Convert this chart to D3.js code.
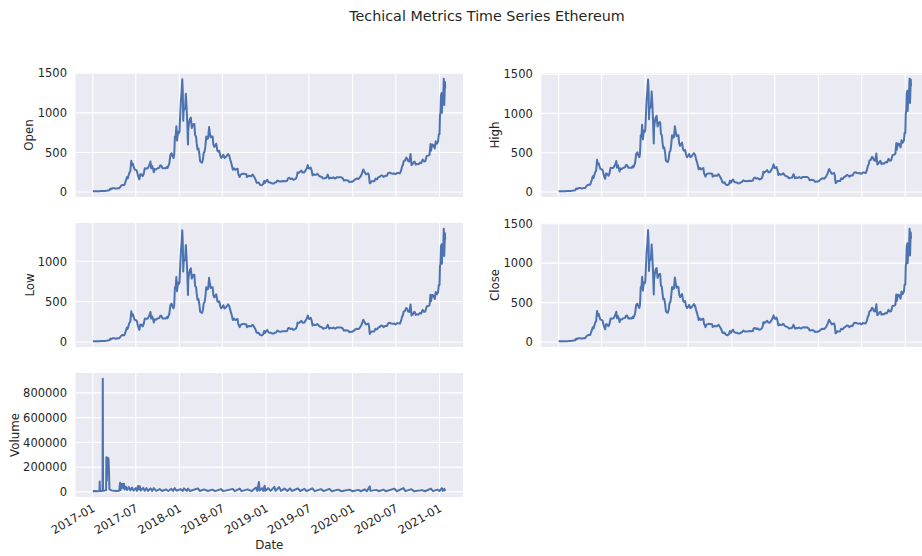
<!DOCTYPE html>
<html><head><meta charset="utf-8">
<script src="https://cdn.jsdelivr.net/npm/d3@7"></script>
<style>
body{margin:0;background:#fff;}
text{font-family:"DejaVu Sans",sans-serif;}
</style>
</head><body>
<svg id="c" width="922" height="556"></svg>
<script>
const chartTitle = "Techical Metrics Time Series Ethereum";
const priceDates = ["2017-01-01","2017-01-08","2017-01-15","2017-01-22","2017-01-29","2017-02-05","2017-02-12","2017-02-19","2017-02-26","2017-03-05","2017-03-12","2017-03-16","2017-03-19","2017-03-26","2017-04-02","2017-04-09","2017-04-16","2017-04-23","2017-04-30","2017-05-07","2017-05-14","2017-05-21","2017-05-25","2017-05-28","2017-06-04","2017-06-08","2017-06-12","2017-06-15","2017-06-19","2017-06-22","2017-06-26","2017-07-02","2017-07-06","2017-07-10","2017-07-16","2017-07-20","2017-07-24","2017-07-30","2017-08-03","2017-08-08","2017-08-13","2017-08-16","2017-08-20","2017-08-24","2017-08-28","2017-09-01","2017-09-04","2017-09-08","2017-09-12","2017-09-15","2017-09-18","2017-09-24","2017-10-01","2017-10-08","2017-10-12","2017-10-16","2017-10-22","2017-10-29","2017-11-05","2017-11-09","2017-11-12","2017-11-19","2017-11-24","2017-11-29","2017-12-02","2017-12-07","2017-12-10","2017-12-13","2017-12-16","2017-12-19","2017-12-22","2017-12-26","2017-12-29",
"2018-01-01","2018-01-04","2018-01-07","2018-01-10","2018-01-13","2018-01-15","2018-01-17","2018-01-19","2018-01-22","2018-01-25","2018-01-28","2018-01-31","2018-02-03","2018-02-06","2018-02-07","2018-02-10","2018-02-14","2018-02-18","2018-02-22","2018-02-25","2018-03-01","2018-03-05","2018-03-08","2018-03-12","2018-03-15","2018-03-18","2018-03-22","2018-03-26","2018-03-29","2018-04-01","2018-04-06","2018-04-10","2018-04-13","2018-04-17","2018-04-20","2018-04-24","2018-04-28","2018-05-02","2018-05-06","2018-05-09","2018-05-13","2018-05-17","2018-05-21","2018-05-24","2018-05-28","2018-06-01","2018-06-05","2018-06-10","2018-06-14","2018-06-18","2018-06-22","2018-06-26","2018-07-01","2018-07-05","2018-07-10","2018-07-15","2018-07-20","2018-07-25","2018-07-30","2018-08-03","2018-08-08","2018-08-12","2018-08-14","2018-08-18","2018-08-24","2018-08-29","2018-09-03","2018-09-06","2018-09-12","2018-09-16","2018-09-20","2018-09-25","2018-10-01","2018-10-10","2018-10-12","2018-10-20","2018-10-30","2018-11-06","2018-11-14","2018-11-19","2018-11-21","2018-11-25","2018-12-01","2018-12-07","2018-12-14","2018-12-20","2018-12-24","2018-12-28","2018-12-31",
"2019-01-06","2019-01-10","2019-01-14","2019-01-20","2019-01-28","2019-02-03","2019-02-08","2019-02-12","2019-02-18","2019-02-24","2019-03-03","2019-03-10","2019-03-17","2019-03-24","2019-03-31","2019-04-03","2019-04-08","2019-04-14","2019-04-21","2019-04-26","2019-05-01","2019-05-07","2019-05-11","2019-05-14","2019-05-18","2019-05-22","2019-05-30","2019-06-04","2019-06-10","2019-06-16","2019-06-22","2019-06-26","2019-06-29","2019-07-03","2019-07-08","2019-07-12","2019-07-16","2019-07-20","2019-07-26","2019-08-01","2019-08-06","2019-08-12","2019-08-18","2019-08-24","2019-08-30","2019-09-05","2019-09-12","2019-09-18","2019-09-24","2019-09-30","2019-10-06","2019-10-12","2019-10-20","2019-10-26","2019-11-02","2019-11-08","2019-11-14","2019-11-20","2019-11-25","2019-12-01","2019-12-08","2019-12-14","2019-12-18","2019-12-24","2019-12-31",
"2020-01-06","2020-01-14","2020-01-19","2020-01-26","2020-02-02","2020-02-08","2020-02-15","2020-02-19","2020-02-26","2020-03-02","2020-03-07","2020-03-10","2020-03-13","2020-03-16","2020-03-20","2020-03-26","2020-04-01","2020-04-06","2020-04-12","2020-04-18","2020-04-25","2020-04-30","2020-05-06","2020-05-10","2020-05-18","2020-05-24","2020-05-30","2020-06-06","2020-06-12","2020-06-18","2020-06-24","2020-06-30","2020-07-06","2020-07-12","2020-07-18","2020-07-23","2020-07-27","2020-07-31","2020-08-03","2020-08-08","2020-08-14","2020-08-18","2020-08-22","2020-08-27","2020-09-01","2020-09-05","2020-09-09","2020-09-14","2020-09-18","2020-09-23","2020-09-28","2020-10-04","2020-10-10","2020-10-16","2020-10-22","2020-10-28","2020-11-02","2020-11-08","2020-11-14","2020-11-20","2020-11-24","2020-11-26","2020-12-01","2020-12-06","2020-12-12","2020-12-16","2020-12-21","2020-12-26","2020-12-29",
"2021-01-01","2021-01-03","2021-01-05","2021-01-07","2021-01-10","2021-01-11","2021-01-12","2021-01-14","2021-01-17","2021-01-19","2021-01-20","2021-01-21","2021-01-22","2021-01-24","2021-01-25"];

const openPrices = [8.2,10.1,9.9,10.6,10.6,11.4,11.5,12.7,14.5,19.3,23,44,36,49,48,43,48,49,79,90,88,150,190,170,245,260,395,340,355,320,285,280,265,210,160,225,225,200,225,300,298,295,300,320,345,385,300,330,290,250,290,285,300,305,335,335,300,300,300,320,305,355,470,490,460,430,470,700,690,830,650,760,740,
760,950,1150,1250,1425,1280,900,1040,1040,1060,1240,1080,880,600,780,860,920,940,810,840,860,860,720,700,610,540,550,480,390,380,370,410,490,510,570,700,670,680,820,750,690,700,700,600,570,590,610,520,510,520,460,430,450,470,430,440,460,480,460,410,360,310,280,300,280,290,295,230,190,220,225,230,230,225,190,205,200,220,180,150,125,115,120,90,85,100,140,115,135,
155,130,120,120,107,108,120,122,145,135,132,136,138,136,142,170,180,165,172,155,160,170,200,250,240,250,270,245,245,270,305,340,300,295,310,275,210,225,215,220,230,205,195,190,170,175,180,220,170,180,175,185,170,185,185,185,185,175,145,150,148,143,125,130,130,
145,165,170,165,190,225,285,260,225,230,235,200,110,115,135,135,135,170,160,185,195,210,205,190,205,205,240,245,235,232,235,225,240,240,235,270,320,345,390,395,435,420,390,385,480,340,350,375,385,345,355,350,370,365,410,385,390,455,460,470,605,520,600,595,550,640,610,635,730,
730,970,1000,1220,1250,1000,1080,1200,1230,1432,1350,1100,1200,1390,1310];

const highPrices = [8.5,10.5,10.2,10.9,10.9,11.7,11.9,13.1,15.0,20.0,24,46,38,51,50,45,50,51,82,94,92,158,200,178,252,268,410,352,366,330,295,289,273,218,168,235,232,207,232,310,307,304,309,330,355,395,310,340,299,260,299,293,309,314,345,345,309,309,309,330,314,366,484,505,474,443,484,721,711,855,670,783,762,
783,979,1185,1288,1432,1318,927,1071,1071,1092,1277,1112,906,618,803,886,948,968,834,865,886,886,742,721,628,556,567,494,402,391,381,422,505,525,587,721,690,700,835,773,711,721,721,618,587,608,628,536,525,536,474,443,464,484,443,453,474,494,474,422,371,319,288,309,288,299,304,237,196,227,232,237,237,232,196,211,206,227,185,155,129,118,124,93,88,103,144,118,139,
160,134,124,124,110,111,124,126,149,139,136,140,142,140,146,175,185,170,177,160,165,175,206,258,247,258,278,252,252,278,314,352,309,304,319,283,216,232,221,227,237,211,201,196,175,180,185,227,175,185,180,191,175,191,191,191,191,180,149,155,152,147,129,134,134,
149,170,175,170,196,232,293,268,232,237,242,206,115,118,139,139,139,175,165,191,201,216,211,196,211,211,247,252,242,239,242,232,247,247,242,278,330,355,402,407,448,433,402,397,490,350,361,386,397,355,366,361,381,376,422,397,402,469,474,484,623,536,618,613,567,659,628,654,752,
752,999,1030,1257,1288,1030,1112,1236,1267,1442,1390,1133,1236,1432,1349];

const lowPrices = [8.0,9.8,9.6,10.3,10.3,11.1,11.2,12.4,14.1,18.8,22,42,34,47,46,41,46,47,76,87,85,144,180,163,238,252,380,325,344,310,275,271,257,202,150,215,218,193,218,290,289,286,291,310,335,373,290,320,281,240,281,277,291,296,325,325,291,291,291,310,296,344,456,475,446,417,456,679,669,805,630,737,718,
737,921,1115,1212,1385,1242,873,1009,1009,1028,1203,1048,854,582,757,834,892,912,786,815,834,834,698,679,592,524,533,466,378,369,359,398,475,495,553,679,650,660,796,728,669,679,679,582,553,572,592,504,495,504,446,417,436,456,417,427,446,466,446,398,349,301,272,291,272,281,286,223,184,213,218,223,223,218,184,199,194,213,175,145,121,112,116,87,82,97,136,112,131,
150,126,116,116,104,105,116,118,141,131,128,132,134,132,138,165,175,160,167,150,155,165,194,242,233,242,262,238,238,262,296,328,291,286,301,267,204,218,209,213,223,199,189,184,165,170,175,213,165,175,170,179,165,179,179,179,179,170,141,145,144,139,121,126,126,
141,160,165,160,184,218,277,252,218,223,228,194,100,112,131,131,131,165,155,179,189,204,199,184,199,199,233,238,228,225,228,218,233,233,228,262,310,335,378,383,422,407,378,373,466,330,339,364,373,335,344,339,359,354,398,373,378,441,446,456,587,504,582,577,533,621,592,616,708,
708,941,970,1183,1212,970,1048,1164,1193,1405,1310,1067,1164,1348,1271];

const closePrices = [8.3,10.0,9.9,10.6,10.7,11.3,11.5,12.8,14.6,19.4,23,44,36,49,48,43,48,49,79,90,89,151,188,171,246,261,393,338,356,319,284,281,264,209,162,226,224,201,226,299,297,296,301,321,346,383,302,329,291,252,289,286,301,306,334,336,299,301,299,321,306,356,471,488,461,432,471,698,692,828,652,759,742,
761,952,1148,1252,1420,1278,902,1041,1038,1062,1238,1082,878,603,781,858,921,938,812,841,859,862,719,701,609,542,549,481,392,379,371,409,491,509,571,698,671,679,818,752,689,701,698,601,569,591,609,521,509,521,459,431,449,471,429,441,459,481,459,411,359,311,279,301,279,291,294,231,189,221,224,231,229,226,191,204,201,219,181,149,126,114,121,91,86,101,139,116,134,
156,129,121,119,108,107,121,121,146,134,133,135,139,137,141,171,179,166,171,156,159,171,199,251,239,251,269,246,244,271,304,338,301,294,311,274,211,224,216,219,231,204,196,189,171,174,181,219,171,179,176,184,171,184,186,184,186,174,146,149,149,142,126,129,131,
144,166,169,166,189,226,283,261,224,231,234,201,112,114,136,134,136,169,161,184,196,209,206,189,206,204,241,244,236,231,236,224,241,239,236,271,319,346,389,396,434,421,389,386,478,341,349,376,384,346,354,351,369,366,409,386,389,456,459,471,604,521,599,596,549,641,609,636,729,
731,968,1002,1218,1252,1001,1079,1202,1229,1438,1352,1098,1201,1388,1312];

const volDates = ["2017-01-01","2017-01-10","2017-01-20","2017-01-29","2017-01-30","2017-01-31","2017-02-08","2017-02-11","2017-02-12","2017-02-13","2017-02-20","2017-02-26","2017-02-27","2017-03-01","2017-03-03","2017-03-08","2017-03-10","2017-03-12","2017-03-20","2017-03-30","2017-04-10","2017-04-22","2017-04-26","2017-04-28","2017-05-04","2017-05-08","2017-05-12","2017-05-15","2017-05-20","2017-05-25","2017-06-01","2017-06-08","2017-06-15","2017-06-22","2017-07-01","2017-07-06","2017-07-10","2017-07-14","2017-07-18","2017-07-22","2017-08-01","2017-08-08","2017-08-15","2017-08-22","2017-09-01","2017-09-08","2017-09-15","2017-09-25","2017-10-10","2017-10-20","2017-11-05","2017-11-15","2017-11-28","2017-12-05","2017-12-12","2017-12-20",
"2018-01-05","2018-01-15","2018-01-20","2018-02-01","2018-02-06","2018-02-15","2018-03-20","2018-03-28","2018-04-15","2018-05-01","2018-05-20","2018-06-01","2018-06-25","2018-07-05","2018-08-14","2018-08-22","2018-09-12","2018-09-20","2018-10-15","2018-11-01","2018-11-20","2018-11-25","2018-12-02","2018-12-05","2018-12-15","2018-12-20","2018-12-26","2018-12-29",
"2019-01-10","2019-01-20","2019-02-05","2019-02-10","2019-02-25","2019-03-05","2019-03-20","2019-04-01","2019-04-12","2019-04-20","2019-05-15","2019-05-25","2019-06-12","2019-06-20","2019-07-15","2019-07-25","2019-08-20","2019-09-01","2019-09-25","2019-10-05","2019-11-01","2019-11-15","2019-12-18",
"2020-01-01","2020-01-25","2020-02-05","2020-02-20","2020-03-01","2020-03-13","2020-03-16","2020-04-10","2020-04-20","2020-05-10","2020-05-20","2020-06-25","2020-07-05","2020-08-02","2020-08-10","2020-09-05","2020-09-15","2020-10-20","2020-11-01","2020-11-26","2020-12-05","2020-12-23",
"2021-01-01","2021-01-11","2021-01-15","2021-01-21","2021-01-25"];

const volumeValues = [4000,6000,5000,7000,84000,6000,7000,9000,915000,9000,11000,14000,280000,90000,276000,270000,176000,22000,12000,8000,7000,9000,74000,15000,66000,30000,66000,20000,42000,15000,38000,12000,35000,10000,30000,8000,48000,20000,46000,10000,32000,9000,30000,8000,28000,8000,30000,8000,22000,7000,20000,7000,25000,8000,30000,9000,
22000,8000,28000,8000,26000,7000,28000,7000,20000,7000,18000,6000,22000,6000,24000,6000,26000,6000,20000,6000,35000,8000,80000,10000,30000,8000,50000,9000,
30000,8000,40000,8000,38000,8000,26000,7000,28000,7000,28000,7000,24000,6000,28000,6000,22000,6000,24000,5000,18000,5000,18000,
5000,16000,5000,20000,6000,44000,8000,16000,5000,18000,5000,26000,5000,30000,6000,22000,5000,14000,5000,26000,6000,18000,
7000,30000,8000,24000,6000];

const xTickDates = ["2017-01-01","2017-07-01","2018-01-01","2018-07-01","2019-01-01","2019-07-01","2020-01-01","2020-07-01","2021-01-01"];
const priceTicks = [0,500,1000,1500];
const volumeTicks = [0,200000,400000,600000,800000];
const xLabel = "Date";

const parse = d3.timeParse("%Y-%m-%d");
const fmt = d3.timeFormat("%Y-%m");
const svg = d3.select("#c");
const BG = "#EAEAF2", LINE = "#4C72B0", TXT = "#262626";
const TICKFS = 11.5, LABELFS = 11.8;

svg.append("text").attr("x", 487).attr("y", 21).attr("text-anchor", "middle")
  .attr("font-size", 14.3).attr("fill", TXT).text(chartTitle);

const xDomain = [parse("2016-10-20"), parse("2021-04-10")];
const colLeft = [75.5, 541.3], plotW = 387.5, rowTop = [73, 223, 373], plotH = 124;

const panels = [
  {label: "Open", dates: priceDates, values: openPrices, ticks: priceTicks, row: 0, col: 0, lx: -46.5},
  {label: "High", dates: priceDates, values: highPrices, ticks: priceTicks, row: 0, col: 1, lx: -46.5},
  {label: "Low", dates: priceDates, values: lowPrices, ticks: priceTicks, row: 1, col: 0, lx: -46},
  {label: "Close", dates: priceDates, values: closePrices, ticks: priceTicks, row: 1, col: 1, lx: -46.5},
  {label: "Volume", dates: volDates, values: volumeValues, ticks: volumeTicks, row: 2, col: 0, lx: -61, xaxis: true}
];

panels.forEach((p, i) => {
  const g = svg.append("g").attr("transform", `translate(${colLeft[p.col]},${rowTop[p.row]})`);
  const x = d3.scaleTime().domain(xDomain).range([0, plotW]);
  const ext = d3.extent(p.values);
  const pad = (ext[1] - ext[0]) * 0.05;
  const y = d3.scaleLinear().domain([ext[0] - pad, ext[1] + pad]).range([plotH, 0]);
  const ticks = p.ticks.filter(t => t >= y.domain()[0] && t <= y.domain()[1]);
  const xt = xTickDates.map(parse);

  g.append("rect").attr("width", plotW).attr("height", plotH).attr("fill", BG);
  g.selectAll(".hg").data(ticks).enter().append("line")
    .attr("x1", 0).attr("x2", plotW).attr("y1", d => y(d)).attr("y2", d => y(d))
    .attr("stroke", "#fff").attr("stroke-width", 1.1);
  g.selectAll(".vg").data(xt).enter().append("line")
    .attr("y1", 0).attr("y2", plotH).attr("x1", d => x(d)).attr("x2", d => x(d))
    .attr("stroke", "#fff").attr("stroke-width", 1.1);

  const cid = "clip" + i;
  g.append("clipPath").attr("id", cid).append("rect").attr("width", plotW).attr("height", plotH);
  const data = p.dates.map((d, k) => ({date: parse(d), v: p.values[k]}));
  g.append("path").datum(data).attr("clip-path", `url(#${cid})`)
    .attr("fill", "none").attr("stroke", LINE).attr("stroke-width", 2).attr("stroke-linejoin", "round")
    .attr("d", d3.line().x(d => x(d.date)).y(d => y(d.v)));

  const ya = g.append("g").call(d3.axisLeft(y).tickValues(ticks).tickSize(0).tickPadding(8.5).tickFormat(d3.format("d")));
  ya.select(".domain").remove();
  ya.selectAll("text").attr("font-size", TICKFS).attr("fill", TXT);

  g.append("text").attr("transform", `translate(${p.lx},${plotH / 2}) rotate(-90)`)
    .attr("text-anchor", "middle").attr("dy", "0.35em").attr("font-size", LABELFS).attr("fill", TXT).text(p.label);

  if (p.xaxis) {
    g.selectAll(".xl").data(xt).enter().append("text")
      .attr("transform", d => `translate(${x(d) + 1},${plotH + 10}) rotate(-30)`)
      .attr("text-anchor", "end").attr("dy", "0.35em").attr("font-size", TICKFS).attr("fill", TXT)
      .text(d => fmt(d));
    g.append("text").attr("x", plotW / 2).attr("y", plotH + 52).attr("text-anchor", "middle")
      .attr("font-size", LABELFS).attr("fill", TXT).text(xLabel);
  }
});
</script>
</body></html>
